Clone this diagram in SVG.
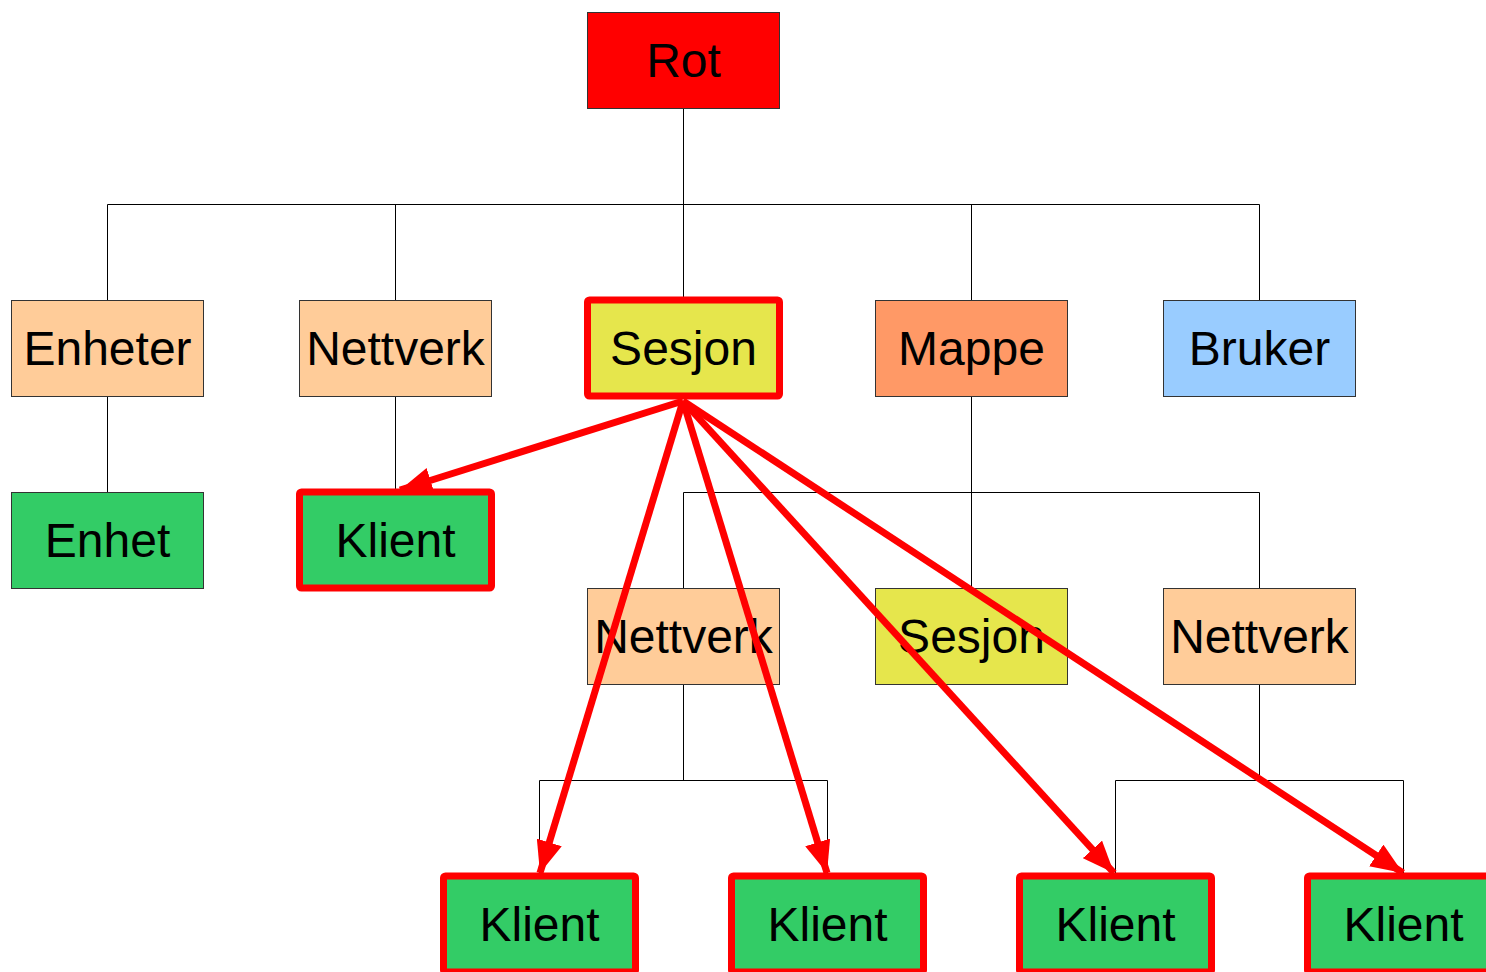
<svg xmlns="http://www.w3.org/2000/svg" width="1486" height="972" viewBox="0 0 1486 972">
<style>
.box{stroke:#333;stroke-width:1}
.hl{fill:none;stroke:#ff0000;stroke-width:7;stroke-linejoin:round}
.t{font-family:"Liberation Sans",Arial,sans-serif;font-size:48px;text-anchor:middle;fill:#000}
.c{fill:none;stroke:#000;stroke-width:1}
.a{stroke:#ff0000;stroke-width:7;fill:none}
</style>
<defs>
<marker id="ah" markerUnits="userSpaceOnUse" markerWidth="34" markerHeight="26" refX="32" refY="13" orient="auto">
<path d="M0,0 L32,13 L0,26 Z" fill="#ff0000"/>
</marker>
</defs>
<rect width="1486" height="972" fill="#fff"/>
<g id="connectors">
<path class="c" d="M683.5,108 V204.5 M107.5,300 V204.5 H1259.5 V300 M395.5,204.5 V300 M683.5,204.5 V300 M971.5,204.5 V300"/>
<path class="c" d="M107.5,396 V492 M395.5,396 V492"/>
<path class="c" d="M971.5,396 V588 M683.5,588 V492.5 H1259.5 V588"/>
<path class="c" d="M683.5,684 V780.5 M539.5,876 V780.5 H827.5 V876"/>
<path class="c" d="M1259.5,684 V780.5 M1115.5,876 V780.5 H1403.5 V876"/>
</g>
<g id="n-rot"><rect class="box" x="587.5" y="12.5" width="192" height="96" fill="#ff0000"/><text class="t" x="683.5" y="77">Rot</text></g>
<g id="n-enheter"><rect class="box" x="11.5" y="300.5" width="192" height="96" fill="#ffcc99"/><text class="t" x="107.5" y="365">Enheter</text></g>
<g id="n-nettverk1"><rect class="box" x="299.5" y="300.5" width="192" height="96" fill="#ffcc99"/><text class="t" x="395.5" y="365">Nettverk</text></g>
<g id="n-sesjon1"><rect class="box" x="587.5" y="300.5" width="192" height="96" fill="#e6e64c"/><rect class="hl" x="587.5" y="300" width="192" height="96" rx="2"/><text class="t" x="683.5" y="365">Sesjon</text></g>
<g id="n-mappe"><rect class="box" x="875.5" y="300.5" width="192" height="96" fill="#ff9966"/><text class="t" x="971.5" y="365">Mappe</text></g>
<g id="n-bruker"><rect class="box" x="1163.5" y="300.5" width="192" height="96" fill="#99ccff"/><text class="t" x="1259.5" y="365">Bruker</text></g>
<g id="n-enhet"><rect class="box" x="11.5" y="492.5" width="192" height="96" fill="#33cc66"/><text class="t" x="107.5" y="557">Enhet</text></g>
<g id="n-klient1"><rect class="box" x="299.5" y="492.5" width="192" height="96" fill="#33cc66"/><rect class="hl" x="299.5" y="492" width="192" height="96" rx="2"/><text class="t" x="395.5" y="557">Klient</text></g>
<g id="n-nettverk2"><rect class="box" x="587.5" y="588.5" width="192" height="96" fill="#ffcc99"/><text class="t" x="683.5" y="653">Nettverk</text></g>
<g id="n-sesjon2"><rect class="box" x="875.5" y="588.5" width="192" height="96" fill="#e6e64c"/><text class="t" x="971.5" y="653">Sesjon</text></g>
<g id="n-nettverk3"><rect class="box" x="1163.5" y="588.5" width="192" height="96" fill="#ffcc99"/><text class="t" x="1259.5" y="653">Nettverk</text></g>
<g id="n-klient2"><rect class="box" x="443.5" y="876.5" width="192" height="96" fill="#33cc66"/><rect class="hl" x="443.5" y="876" width="192" height="96" rx="2"/><text class="t" x="539.5" y="941">Klient</text></g>
<g id="n-klient3"><rect class="box" x="731.5" y="876.5" width="192" height="96" fill="#33cc66"/><rect class="hl" x="731.5" y="876" width="192" height="96" rx="2"/><text class="t" x="827.5" y="941">Klient</text></g>
<g id="n-klient4"><rect class="box" x="1019.5" y="876.5" width="192" height="96" fill="#33cc66"/><rect class="hl" x="1019.5" y="876" width="192" height="96" rx="2"/><text class="t" x="1115.5" y="941">Klient</text></g>
<g id="n-klient5"><rect class="box" x="1307.5" y="876.5" width="192" height="96" fill="#33cc66"/><rect class="hl" x="1307.5" y="876" width="192" height="96" rx="2"/><text class="t" x="1403.5" y="941">Klient</text></g>
<g id="arrows">
<line class="a" x1="683" y1="401" x2="400" y2="490" marker-end="url(#ah)"/>
<line class="a" x1="683" y1="401" x2="540" y2="873" marker-end="url(#ah)"/>
<line class="a" x1="683" y1="401" x2="827" y2="873" marker-end="url(#ah)"/>
<line class="a" x1="683" y1="401" x2="1114" y2="873" marker-end="url(#ah)"/>
<line class="a" x1="683" y1="401" x2="1403" y2="873" marker-end="url(#ah)"/>
</g>
</svg>
